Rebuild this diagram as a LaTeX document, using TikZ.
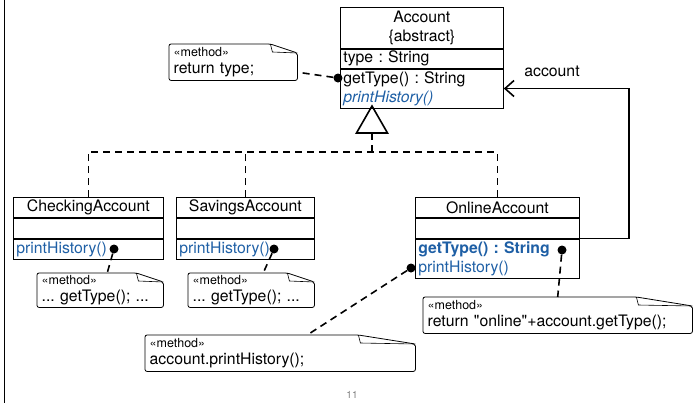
\documentclass[tikz,border=0pt]{standalone}
\usepackage{fontspec}
\setmainfont{TeX Gyre Heros}
\usetikzlibrary{arrows.meta,calc}
\definecolor{opblue}{RGB}{30,95,165}
\frenchspacing

\begin{document}
\begin{tikzpicture}[x=1bp,y=-1bp,font=\fontsize{15.8bp}{19bp}\selectfont]
    \useasboundingbox (0,0) rectangle (693,403);
    \draw[line width=0.8bp] (4,0) -- (4,403);
    \begin{scope}
        \tikzstyle{every node}=[draw, line width=0.8bp, anchor=north west, inner xsep=3bp, inner ysep=0pt, align=left]
        % Account
        \node[text width=157bp, minimum height=41bp, align=center] (accN) at (340,7) {Account\\\{abstract\}};
        \node[text width=157bp, minimum height=19bp] (accA) at (accN.south west) {type : String};
        \node[text width=157bp, minimum height=39bp] (accO) at (accA.south west) {getType() : String\\\textcolor{opblue}{\itshape printHistory()}};
        % CheckingAccount
        \node[text width=144bp, minimum height=20bp, align=center] (chkN) at (13,197) {CheckingAccount};
        \node[text width=144bp, minimum height=20bp] (chkA) at (chkN.south west) {};
        \node[text width=144bp, minimum height=20bp] (chkO) at (chkA.south west) {\textcolor{opblue}{printHistory()}};
        % SavingsAccount
        \node[text width=132bp, minimum height=20bp, align=center] (savN) at (176,197) {SavingsAccount};
        \node[text width=132bp, minimum height=20bp] (savA) at (savN.south west) {};
        \node[text width=132bp, minimum height=20bp] (savO) at (savA.south west) {\textcolor{opblue}{printHistory()}};
        % OnlineAccount
        \node[text width=158bp, minimum height=20bp, align=center] (onlN) at (415,197) {OnlineAccount};
        \node[text width=158bp, minimum height=20bp] (onlA) at (onlN.south west) {};
        \node[text width=158bp, minimum height=39bp] (onlO) at (onlA.south west) {\textcolor{opblue}{\bfseries getType() : String}\\\textcolor{opblue}{printHistory()}};
    \end{scope}
    \begin{scope}
        \tikzstyle{every node}=[circle, fill=black, inner sep=0pt, minimum size=9bp]
        \node (dotAcc) at (338,78) {};
        \node (dotChk) at (114,249) {};
        \node (dotSav) at (274,249) {};
        \node (dotOnl) at (562,250) {};
        \node (dotPrt) at (411,268) {};
    \end{scope}
    \begin{scope}
        \tikzstyle{every node}=[anchor=north west, inner xsep=4.5bp, inner ysep=0pt, align=left]
        \node[text width=119bp, minimum height=36bp] (noteType) at (169,44) {{\fontsize{12.5bp}{13bp}\selectfont «method»}\\[-2bp]return type;};
        \node[text width=117bp, minimum height=34bp] (noteChk) at (37,273) {{\fontsize{12.5bp}{13bp}\selectfont «method»}\\[-2bp]... getType(); ...};
        \node[text width=117bp, minimum height=34bp] (noteSav) at (188,273) {{\fontsize{12.5bp}{13bp}\selectfont «method»}\\[-2bp]... getType(); ...};
        \node[text width=260bp, minimum height=36bp] (noteOnl) at (423,297) {{\fontsize{12.5bp}{13bp}\selectfont «method»}\\[-2bp]return \textquotedbl online\textquotedbl +account.getType();};
        \node[text width=261bp, minimum height=36bp] (notePrt) at (145,335) {{\fontsize{12.5bp}{13bp}\selectfont «method»}\\[-2bp]account.printHistory();};
        % folded corners
        \foreach \n/\d in {noteType/27,noteChk/27,noteSav/27,noteOnl/56,notePrt/57} {
            \draw[line width=0.8bp, rounded corners=2bp] (\n.north west) -- ($(\n.north east)+(-\d,0)$) -- ($(\n.north east)+(0,9)$) -- (\n.south east) -- (\n.south west) -- cycle;
            \draw[line width=0.6bp] ($(\n.north east)+(-\d,0)$) -- ($(\n.north east)+(-\d+2,8)$) -- ($(\n.north east)+(0,9)$);
        }
    \end{scope}
    \begin{scope}
        \tikzstyle{link}=[draw, line width=1.6bp, dash pattern=on 7bp off 5bp]
        \draw[link] (dotAcc) -- ($(noteType.east)+(0,10)$);
        \draw[link] (dotChk) -- ($(noteChk.north)+(7,0)$);
        \draw[link] (dotSav) -- ($(noteSav.north)+(12,0)$);
        \draw[link] (dotOnl) -- (noteOnl.north);
        \draw[link] (dotPrt) -- ($(notePrt.north)+(27,0)$);
        % realization
        \coordinate (apex) at (372,106);
        \coordinate (triBase) at (372,133);
        \draw[line width=1.6bp] (apex) -- ++(15.5,27) -- ++(-31,0) -- cycle;
        \draw[link] (triBase) -- ++(0,19);
        \draw[link] (chkN.north) -- ++(0,-45) -| (onlN.north);
        \draw[link] (savN.north) -- ++(0,-45);
    \end{scope}
    % association
    \draw[line width=1.6bp, {Straight Barb[length=9bp,width=16bp]}-] (accO.east) -| ($(onlO.north east)+(49,0)$) -- (onlO.north east);
    \node (lblAcc) at (552,71) {account};
    \node[text=gray, font=\fontsize{10bp}{12bp}\selectfont] (page) at (352,395) {11};
\end{tikzpicture}
\end{document}
